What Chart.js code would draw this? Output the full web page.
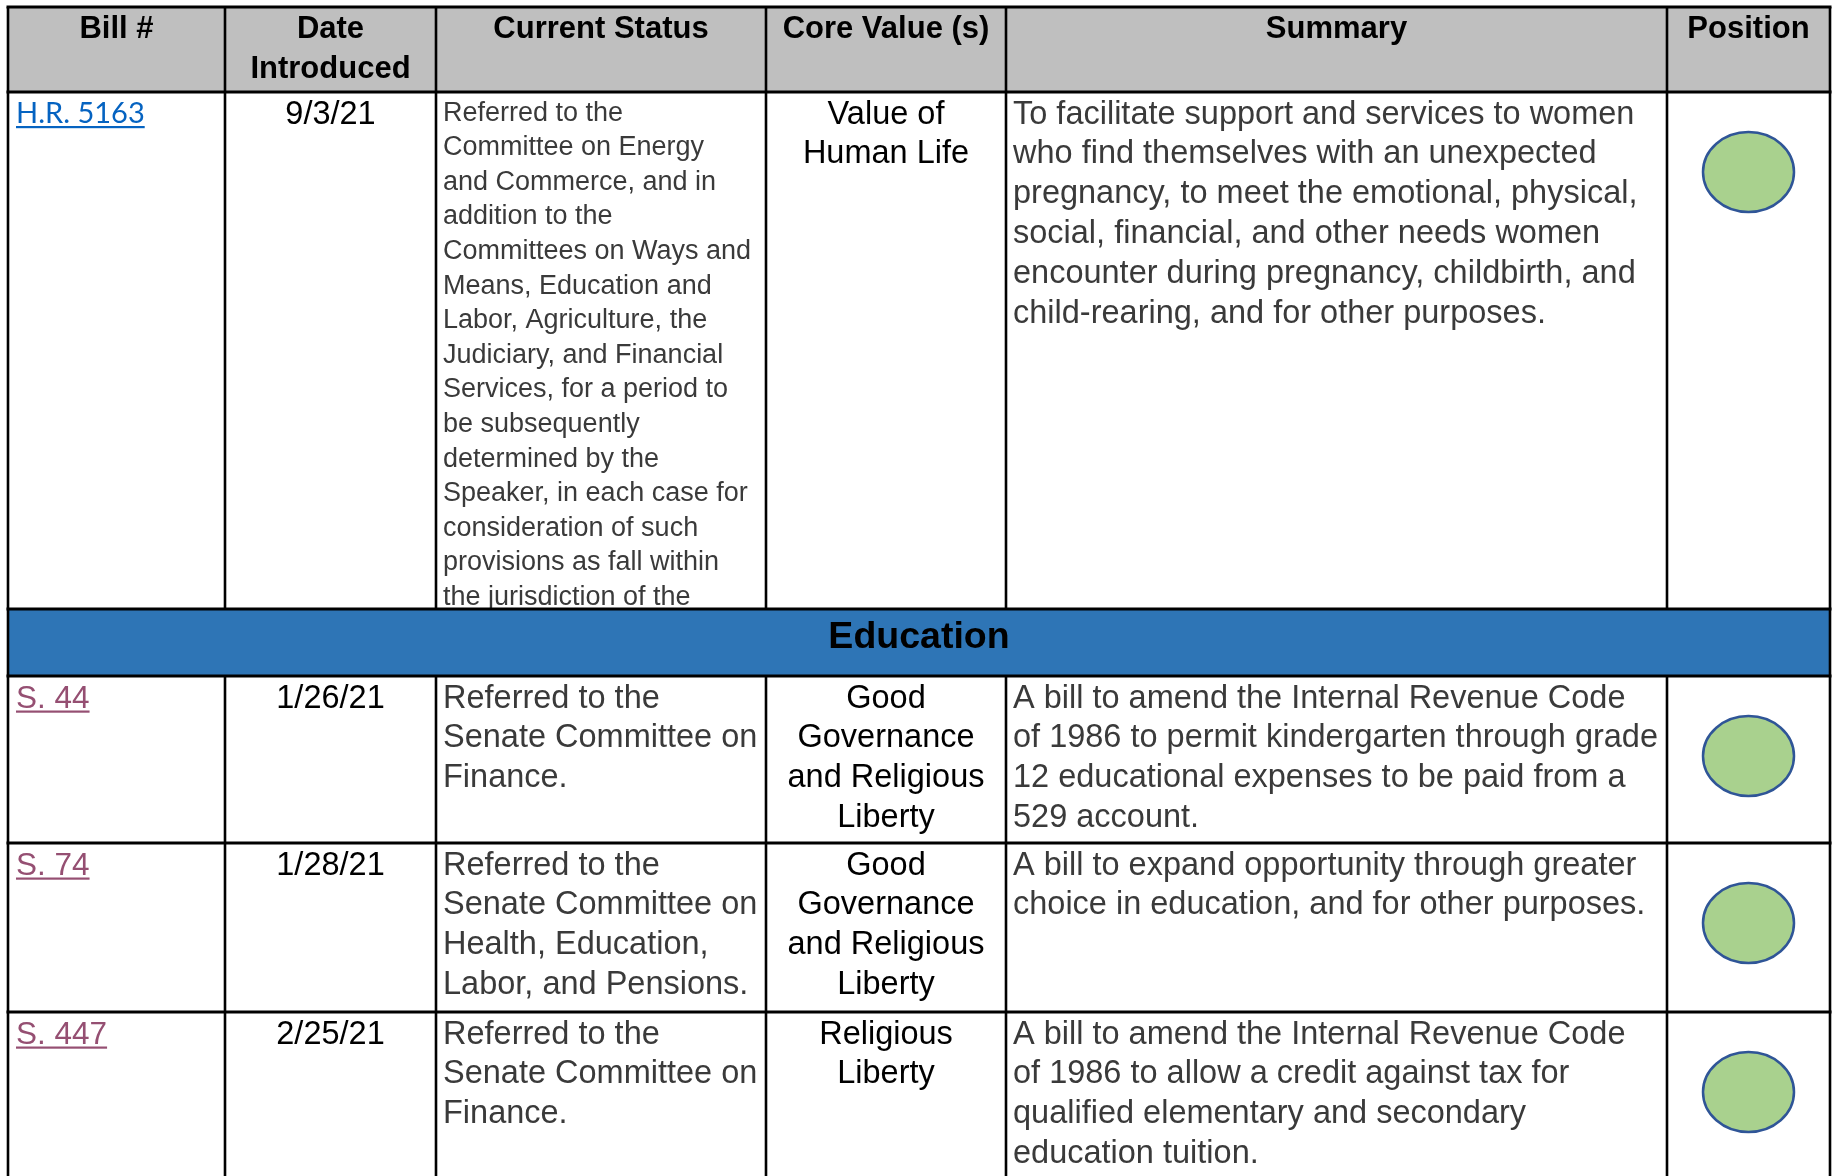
<!DOCTYPE html>
<html>
<head>
<meta charset="utf-8">
<title>Bills - Education</title>
<script src="https://cdn.jsdelivr.net/npm/chart.js@4.4.1/dist/chart.umd.min.js"></script>
<style>
  html, body { margin: 0; padding: 0; background: #ffffff; }
  #wrap { width: 1836px; height: 1176px; }
</style>
</head>
<body>
<div id="wrap"><canvas id="bills-table" width="1836" height="1176"></canvas></div>
<script>
// table contents
const columns = [['Bill #'], ['Date', 'Introduced'], ['Current Status'], ['Core Value (s)'], ['Summary'], ['Position']];
const sectionTitle = 'Education';
const bills = ['H.R. 5163', 'S. 44', 'S. 74', 'S. 447'];
const dates = ['9/3/21', '1/26/21', '1/28/21', '2/25/21'];
const statuses = [
    ['Referred to the', 'Committee on Energy', 'and Commerce, and in', 'addition to the',
     'Committees on Ways and', 'Means, Education and', 'Labor, Agriculture, the',
     'Judiciary, and Financial', 'Services, for a period to', 'be subsequently',
     'determined by the', 'Speaker, in each case for', 'consideration of such',
     'provisions as fall within', 'the jurisdiction of the'],
    ['Referred to the', 'Senate Committee on', 'Finance.'],
    ['Referred to the', 'Senate Committee on', 'Health, Education,', 'Labor, and Pensions.'],
    ['Referred to the', 'Senate Committee on', 'Finance.']
];
const coreValues = [
    ['Value of', 'Human Life'],
    ['Good', 'Governance', 'and Religious', 'Liberty'],
    ['Good', 'Governance', 'and Religious', 'Liberty'],
    ['Religious', 'Liberty']
];
const summaries = [
    ['To facilitate support and services to women', 'who find themselves with an unexpected',
     'pregnancy, to meet the emotional, physical,', 'social, financial, and other needs women',
     'encounter during pregnancy, childbirth, and', 'child-rearing, and for other purposes.'],
    ['A bill to amend the Internal Revenue Code', 'of 1986 to permit kindergarten through grade',
     '12 educational expenses to be paid from a', '529 account.'],
    ['A bill to expand opportunity through greater', 'choice in education, and for other purposes.'],
    ['A bill to amend the Internal Revenue Code', 'of 1986 to allow a credit against tax for',
     'qualified elementary and secondary', 'education tuition.']
];
const positions = ['Support', 'Support', 'Support', 'Support'];

// layout (in canvas units, same as the hidden linear scales)
const colEdges = [8, 225, 436, 766, 1006, 1667, 1830];
const headerTop = 7;
const headerBottom = 92;
const rowTops = [92, 676, 843, 1012];
const rowBottoms = [609, 843, 1012, 1200];
const bandTop = 609;
const bandBottom = 676;
const statusFontSize = [27, 32.5, 32.5, 32.5];
const statusLineH = [34.6, 39.8, 39.8, 39.8];

const FONT = '"Liberation Sans", Arial, sans-serif';
const linkColors = ['#0563C1', '#954F72', '#954F72', '#954F72'];

function makeEllipse(rx, ry) {
    const c = document.createElement('canvas');
    c.width = rx * 2 + 4;
    c.height = ry * 2 + 4;
    const g = c.getContext('2d');
    g.beginPath();
    g.ellipse(c.width / 2, c.height / 2, rx, ry, 0, 0, Math.PI * 2);
    g.fillStyle = '#A9D18E';
    g.fill();
    g.lineWidth = 2.5;
    g.strokeStyle = '#2F5597';
    g.stroke();
    return c;
}

const positionStyle = { Support: makeEllipse(45.5, 40) };

const tablePlugin = {
    id: 'billTable',
    beforeDatasetsDraw(chart) {
        const { ctx, scales } = chart;
        const px = v => scales.x.getPixelForValue(v);
        const py = v => scales.y.getPixelForValue(v);
        const left = px(colEdges[0]);
        const right = px(colEdges[colEdges.length - 1]);

        ctx.save();
        // fills
        ctx.fillStyle = '#BFBFBF';
        ctx.fillRect(left, py(headerTop), right - left, py(headerBottom) - py(headerTop));
        ctx.fillStyle = '#2E75B6';
        ctx.fillRect(left, py(bandTop), right - left, py(bandBottom) - py(bandTop));

        const drawLines = (lines, xPos, base, lineH, align, font, color, clip) => {
            ctx.save();
            ctx.beginPath();
            ctx.rect(clip[0], clip[1], clip[2] - clip[0], clip[3] - clip[1]);
            ctx.clip();
            ctx.font = font;
            ctx.fillStyle = color;
            ctx.textAlign = align;
            ctx.textBaseline = 'alphabetic';
            lines.forEach((t, i) => ctx.fillText(t, xPos, base + i * lineH));
            ctx.restore();
        };

        // header
        columns.forEach((lines, c) => {
            const cx = px((colEdges[c] + colEdges[c + 1]) / 2);
            drawLines(lines, cx, py(headerTop + 30.5), 40, 'center', 'bold 31px ' + FONT, '#000000',
                [px(colEdges[c]), py(headerTop), px(colEdges[c + 1]), py(headerBottom)]);
        });

        // section band
        drawLines([sectionTitle], (left + right) / 2, py(bandTop) + 38.5, 0, 'center', 'bold 37.5px ' + FONT, '#000000',
            [left, py(bandTop), right, py(bandBottom)]);

        // body rows
        bills.forEach((bill, r) => {
            const top = py(rowTops[r]);
            const bottom = py(rowBottoms[r]);
            const cell = c => [px(colEdges[c]), top, px(colEdges[c + 1]), bottom];
            const base = top + 31.5;

            // bill link
            const linkFont = r === 0 ? '29px Lato, ' + FONT : '31.5px ' + FONT;
            const linkBase = r === 0 ? top + 31 : base;
            drawLines([bill], px(colEdges[0]) + 8, linkBase, 0, 'left', linkFont, linkColors[r], cell(0));
            ctx.font = linkFont;
            const w = ctx.measureText(bill).width;
            ctx.fillStyle = linkColors[r];
            ctx.fillRect(px(colEdges[0]) + 8, linkBase + 3, w, 2.2);

            drawLines([dates[r]], px((colEdges[1] + colEdges[2]) / 2), base, 0, 'center', '32.5px ' + FONT, '#000000', cell(1));
            drawLines(statuses[r], px(colEdges[2]) + 7, top + (r === 0 ? 28.5 : 31.5), statusLineH[r], 'left',
                statusFontSize[r] + 'px ' + FONT, '#3A3A3A', cell(2));
            drawLines(coreValues[r], px((colEdges[3] + colEdges[4]) / 2), base, 39.8, 'center', '32.5px ' + FONT, '#000000', cell(3));
            drawLines(summaries[r], px(colEdges[4]) + 7, base, 39.8, 'left', '32.5px ' + FONT, '#3A3A3A', cell(4));
        });

        // grid lines
        ctx.strokeStyle = '#000000';
        ctx.lineWidth = 3.2;
        [headerTop, headerBottom, bandTop, bandBottom, rowBottoms[1], rowBottoms[2]].forEach(v => {
            ctx.beginPath();
            ctx.moveTo(left - 1.5, py(v));
            ctx.lineTo(right + 1.5, py(v));
            ctx.stroke();
        });
        ctx.lineWidth = 2.6;
        colEdges.forEach((v, i) => {
            const outer = i === 0 || i === colEdges.length - 1;
            ctx.beginPath();
            ctx.moveTo(px(v), py(headerTop));
            if (outer) {
                ctx.lineTo(px(v), py(rowBottoms[3]));
            } else {
                ctx.lineTo(px(v), py(bandTop));
                ctx.moveTo(px(v), py(bandBottom));
                ctx.lineTo(px(v), py(rowBottoms[3]));
            }
            ctx.stroke();
        });
        ctx.restore();
    }
};

const positionCol = (colEdges[5] + colEdges[6]) / 2;

new Chart(document.getElementById('bills-table'), {
    type: 'scatter',
    data: {
        datasets: [{
            label: 'Position',
            data: positions.map((p, i) => ({ x: positionCol, y: rowTops[i] + 80 })),
            pointStyle: positions.map(p => positionStyle[p]),
            pointRadius: 3,
            clip: false
        }]
    },
    options: {
        responsive: false,
        animation: false,
        events: [],
        layout: { padding: 0, autoPadding: false },
        plugins: {
            legend: { display: false },
            tooltip: { enabled: false }
        },
        scales: {
            x: { type: 'linear', min: 0, max: 1836, display: false },
            y: { type: 'linear', min: 0, max: 1176, reverse: true, display: false }
        }
    },
    plugins: [tablePlugin]
});
</script>
</body>
</html>
